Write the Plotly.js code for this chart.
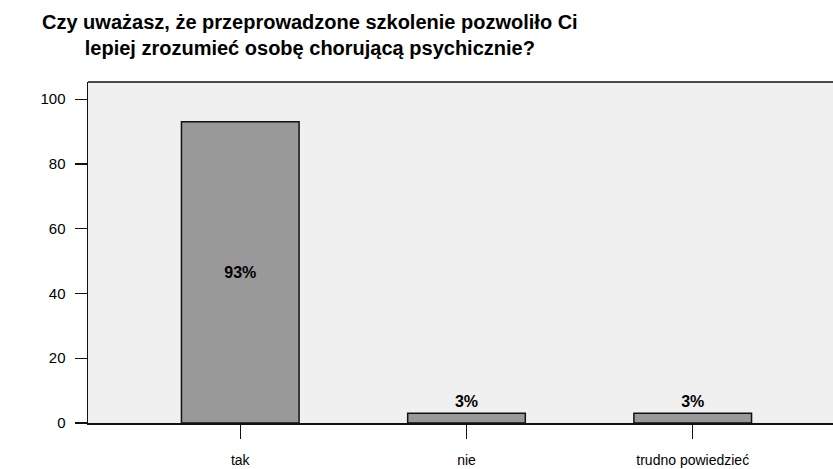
<!DOCTYPE html>
<html>
<head>
<meta charset="utf-8">
<script src="https://cdn.plot.ly/plotly-3.0.1.min.js"></script>
<style>html,body{margin:0;padding:0;background:#fff;}#chart{width:833px;height:469px;}</style>
</head>
<body>
<div id="chart"></div>
<script>
const categories = ["tak", "nie", "trudno powiedzieć"];
const values = [93, 3, 3];
const labels = ["93%", "3%", "3%"];
const yTicks = [0, 20, 40, 60, 80, 100];
const titleText = "Czy uważasz, że przeprowadzone szkolenie pozwoliło Ci<br>lepiej zrozumieć osobę chorującą psychicznie?";

const lblFont = {family: "Liberation Sans, Arial, sans-serif", size: 16, color: "#000", weight: "bold"};

const trace = {
  type: "bar",
  x: categories,
  y: values,
  text: labels,
  textposition: ["inside", "outside", "outside"],
  insidetextanchor: "middle",
  textangle: 0,
  cliponaxis: false,
  textfont: lblFont,
  insidetextfont: lblFont,
  outsidetextfont: lblFont,
  width: 0.52,
  marker: {color: "#999999", line: {color: "#111", width: 1.5}},
  hoverinfo: "none"
};

const layout = {
  width: 833, height: 469,
  margin: {l: 88, r: 0, t: 82, b: 46, pad: 0},
  paper_bgcolor: "#ffffff",
  plot_bgcolor: "#f0f0f0",
  showlegend: false,
  annotations: [{
    text: titleText,
    showarrow: false,
    xref: "paper", yref: "paper",
    x: (310 - 88) / 745, xanchor: "center",
    y: 1 + (82 - 9) / 341, yanchor: "top",
    align: "center",
    font: {family: "Liberation Sans, Arial, sans-serif", size: 20, color: "#000", weight: "bold"}
  }],
  shapes: [{
    type: "line", xref: "paper", yref: "paper",
    x0: 0, x1: 1, y0: 1, y1: 1,
    line: {color: "#111", width: 1.5}
  }],
  xaxis: {
    type: "category",
    range: [-0.673, 2.62],
    showgrid: false, zeroline: false,
    showline: true, linecolor: "#111", linewidth: 1.5,
    ticks: "outside", ticklen: 14, tickwidth: 1.2, tickcolor: "#111",
    ticklabelstandoff: 10,
    tickfont: {family: "Liberation Sans, Arial, sans-serif", size: 14, color: "#000"},
    fixedrange: true
  },
  yaxis: {
    range: [0, 105.3],
    tickvals: yTicks,
    showgrid: false, zeroline: false,
    showline: true, linecolor: "#111", linewidth: 1.5,
    ticks: "outside", ticklen: 12, tickwidth: 1.2, tickcolor: "#111",
    ticklabelstandoff: 6,
    tickfont: {family: "Liberation Sans, Arial, sans-serif", size: 15, color: "#000"},
    fixedrange: true
  }
};

Plotly.newPlot("chart", [trace], layout, {displayModeBar: false, staticPlot: true});
</script>
</body>
</html>
